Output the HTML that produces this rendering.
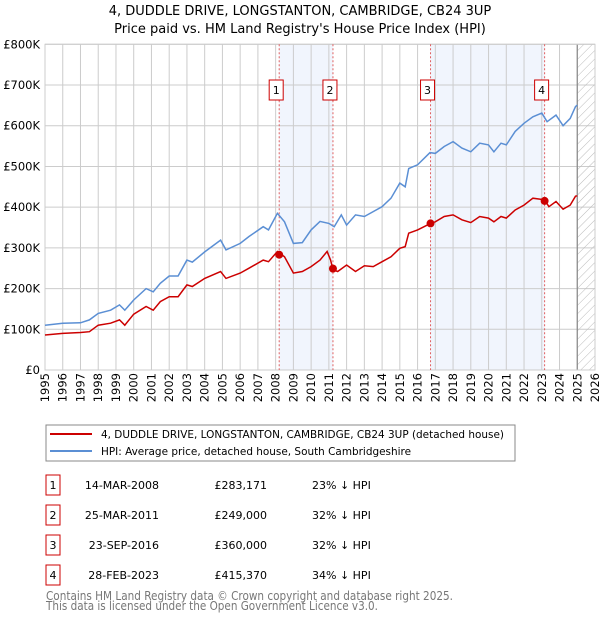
<!DOCTYPE html>
<html><head><meta charset="utf-8">
<style>
body{margin:0;background:#fff;font-family:"DejaVu Sans","Liberation Sans",sans-serif;}
svg text{font-family:"DejaVu Sans","Liberation Sans",sans-serif;}
</style></head>
<body>
<svg id="chart" width="600" height="620" xmlns="http://www.w3.org/2000/svg">
<text x="300" y="15" text-anchor="middle" font-size="13">4, DUDDLE DRIVE, LONGSTANTON, CAMBRIDGE, CB24 3UP</text>
<text x="300" y="33" text-anchor="middle" font-size="13">Price paid vs. HM Land Registry's House Price Index (HPI)</text>
<g id="plot"></g>
<rect x="46" y="425" width="469" height="36" fill="none" stroke="#888"/>
<line x1="50" y1="434" x2="92" y2="434" stroke="#cc0000" stroke-width="2"/>
<text x="101" y="438" font-size="11" textLength="403" lengthAdjust="spacingAndGlyphs">4, DUDDLE DRIVE, LONGSTANTON, CAMBRIDGE, CB24 3UP (detached house)</text>
<line x1="50" y1="451" x2="92" y2="451" stroke="#5b8fd4" stroke-width="2"/>
<text x="101" y="455" font-size="11" textLength="310" lengthAdjust="spacingAndGlyphs">HPI: Average price, detached house, South Cambridgeshire</text>
<g id="table" font-size="11"></g>
<text x="46" y="600" font-size="12" fill="#777" textLength="407" lengthAdjust="spacingAndGlyphs">Contains HM Land Registry data © Crown copyright and database right 2025.</text>
<text x="46" y="610" font-size="12" fill="#777" textLength="332" lengthAdjust="spacingAndGlyphs">This data is licensed under the Open Government Licence v3.0.</text>
</svg>
<script>
const hpiYears=[1995,1996,1997,1997.5,1998,1998.7,1999.2,1999.5,2000,2000.7,2001.1,2001.5,2002,2002.5,2003,2003.3,2004,2004.9,2005.2,2006,2006.5,2007.3,2007.6,2008.1,2008.5,2009,2009.5,2010,2010.5,2011,2011.3,2011.7,2012,2012.5,2013,2013.5,2014,2014.5,2015,2015.3,2015.5,2016,2016.7,2017,2017.5,2018,2018.5,2019,2019.5,2020,2020.3,2020.7,2021,2021.5,2022,2022.5,2023,2023.3,2023.8,2024.2,2024.6,2024.9,2025];
const hpiValues=[110,115,116,123,139,147,160,147,172,200,192,213,231,231,270,265,290,319,295,311,328,352,344,385,364,311,313,344,365,360,352,381,356,381,377,389,401,422,459,450,495,504,534,532,549,561,545,536,557,553,536,557,553,586,606,622,631,610,626,600,618,647,651];
const propYears=[1995,1996,1997,1997.5,1998,1998.7,1999.2,1999.5,2000,2000.7,2001.1,2001.5,2002,2002.5,2003,2003.3,2004,2004.9,2005.2,2006,2006.5,2007.3,2007.6,2008.1,2008.5,2009,2009.5,2010,2010.5,2010.9,2011.1,2011.23,2011.5,2012,2012.5,2013,2013.5,2014,2014.5,2015,2015.3,2015.5,2016,2016.73,2017,2017.5,2018,2018.5,2019,2019.5,2020,2020.3,2020.7,2021,2021.5,2022,2022.5,2023.16,2023.4,2023.8,2024.2,2024.6,2024.9,2025];
const propValues=[86,90,92,94,110,115,123,110,137,156,147,168,180,180,209,205,225,242,225,238,250,270,266,291,278,238,242,254,270,291,270,246,242,258,242,256,254,266,278,299,303,336,344,360,364,377,381,369,362,377,373,364,377,373,393,405,422,418,401,414,395,405,427,428];
const saleYears=[2008.2,2011.23,2016.73,2023.16];
const saleValues=[283.171,249,360,415.37];
const saleLabels=["1","2","3","4"];
const saleDates=["14-MAR-2008","25-MAR-2011","23-SEP-2016","28-FEB-2023"];
const salePrices=["£283,171","£249,000","£360,000","£415,370"];
const salePct=["23% ↓ HPI","32% ↓ HPI","32% ↓ HPI","34% ↓ HPI"];
const yTicks=[0,100,200,300,400,500,600,700,800];
const yTickLabels=["£0","£100K","£200K","£300K","£400K","£500K","£600K","£700K","£800K"];
const xTicks=[1995,1996,1997,1998,1999,2000,2001,2002,2003,2004,2005,2006,2007,2008,2009,2010,2011,2012,2013,2014,2015,2016,2017,2018,2019,2020,2021,2022,2023,2024,2025,2026];

const L=45,R=595,T=44.3,B=370;
const X=y=>L+(y-1995)*(R-L)/31;
const Y=v=>B-v*(B-T)/800;
const NS="http://www.w3.org/2000/svg";
const g=document.getElementById('plot');
function mk(tag,attrs,parent){const e=document.createElementNS(NS,tag);for(const k in attrs)e.setAttribute(k,attrs[k]);(parent||g).appendChild(e);return e;}

for(let i=0;i<4;i+=2){const r=mk('rect',{x:X(saleYears[i]),y:T,width:X(saleYears[i+1])-X(saleYears[i]),height:B-T,fill:'#eef3fc',opacity:0.8});

}
xTicks.forEach(t=>{mk('line',{x1:X(t),x2:X(t),y1:T,y2:B,stroke:'#cccccc','stroke-width':1});
const tx=mk('text',{x:0,y:0,transform:`translate(${X(t)+4},${B+3}) rotate(-90)`,'text-anchor':'end','font-size':11.5});tx.textContent=t;

});
yTicks.forEach((t,i)=>{mk('line',{x1:L,x2:R,y1:Y(t),y2:Y(t),stroke:'#cccccc','stroke-width':1});
const tx=mk('text',{x:L-5,y:Y(t)+4,'text-anchor':'end','font-size':11.5});tx.textContent=yTickLabels[i];

});
const defs=mk('defs',{});const pat=mk('pattern',{id:'hatch',width:6,height:6,patternUnits:'userSpaceOnUse',patternTransform:'rotate(45)'},defs);
mk('line',{x1:0,y1:0,x2:0,y2:6,stroke:'#bbb','stroke-width':1},pat);
const hr=mk('rect',{x:X(2025),y:T,width:R-X(2025),height:B-T,fill:'url(#hatch)'});


mk('line',{x1:X(2025),x2:X(2025),y1:T,y2:B,stroke:'#888','stroke-width':1.2});
mk('rect',{x:L,y:T,width:R-L,height:B-T,fill:'none',stroke:'#ccc'});
saleYears.forEach((s,i)=>{mk('line',{x1:X(s),x2:X(s),y1:T,y2:B,stroke:'#e06060','stroke-width':1,'stroke-dasharray':'2,2'});
const b=mk('rect',{x:X(s)-10,y:80,width:14,height:20,fill:'#fff',stroke:'#cc0000'});


const t=mk('text',{x:X(s)-3,y:94,'text-anchor':'middle','font-size':11});t.textContent=saleLabels[i];});
function path(xs,vs){return xs.map((x,i)=>(i?'L':'M')+X(x).toFixed(1)+','+Y(vs[i]).toFixed(1)).join('');}
const hp=mk('path',{d:path(hpiYears,hpiValues),fill:'none',stroke:'#5b8fd4','stroke-width':1.5});


const pp=mk('path',{d:path(propYears,propValues),fill:'none',stroke:'#cc0000','stroke-width':1.5});


saleYears.forEach((s,i)=>{const c=mk('circle',{cx:X(s),cy:Y(saleValues[i]),r:4,fill:'#cc0000'});

});
const tb=document.getElementById('table');
saleLabels.forEach((lab,i)=>{const y=483+i*30;
const b=mk('rect',{x:46,y:y-8,width:14,height:20,fill:'#fff',stroke:'#cc0000'},tb);


const vals=[[53,lab,'middle'],[159,saleDates[i],'end'],[267,salePrices[i],'end'],[312,salePct[i],'start']];
vals.forEach(v=>{const t=mk('text',{x:v[0],y:y+6,'text-anchor':v[2]},tb);t.textContent=v[1];

});});
</script>
</body></html>
